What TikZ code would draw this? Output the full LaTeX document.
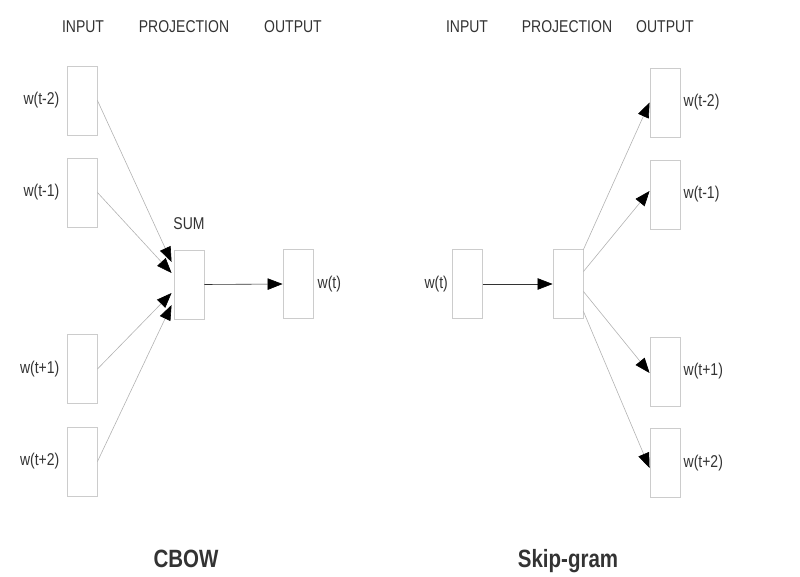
\documentclass[tikz,border=0pt]{standalone}
\usepackage{fontspec}
\setmainfont{Liberation Sans}
\usetikzlibrary{arrows.meta,positioning}
\newcommand{\vtxt}[1]{\scalebox{1}[1.22]{#1}}
\begin{document}
\begin{tikzpicture}[x=1pt,y=-1pt,
  vec/.style={draw=gray!40,line width=0.9pt,minimum width=30pt,minimum height=69pt,inner sep=0pt},
  lbl/.style={text=black!80,font=\fontsize{14}{16}\selectfont,inner sep=0pt},
  ttl/.style={text=black!80,font=\bfseries\fontsize{20.5}{24}\selectfont,inner sep=0pt,anchor=base},
  conn/.style={draw=gray!60,line width=0.6pt,-{Triangle[black,length=15pt,width=11.5pt]}}]
  \useasboundingbox (0,0) rectangle (800,577);
  \foreach \x/\hd in {83/INPUT,184/PROJECTION,293/OUTPUT,467/INPUT,567/PROJECTION,665/OUTPUT} {
    \node[lbl,anchor=base] (h\x) at (\x,33) {\vtxt{\hd}};
  }
  \foreach \i/\y/\t in {1/100.5/t-2,2/192.5/t-1,3/369/t+1,4/461.5/t+2} {
    \node[vec] (cin\i) at (82,\y) {};
    \node[lbl,left=7pt of cin\i] (lcin\i) {\vtxt{w(\t)}};
  }
  \node[vec] (sum) at (189,284.5) {};
  \node[lbl,above=20pt of sum] (lsum) {\vtxt{SUM}};
  \node[vec] (cout) at (298,284) {};
  \node[lbl,right=4pt of cout] (lcout) {\vtxt{w(t)}};
  \foreach \i/\s in {1/22.5,2/11.5,3/-8.5,4/-20.5} {
    \draw[conn] (cin\i.east) -- ([xshift=-2pt,yshift=\s pt]sum.west);
  }
  \draw[conn,draw=black!80] (sum.east) -- (cout.west);
  \node[vec] (sin) at (467.5,284) {};
  \node[lbl,left=4pt of sin] (lsin) {\vtxt{w(t)}};
  \node[vec] (proj) at (568,284) {};
  \draw[conn,draw=black!80] (sin.east) -- (proj.west);
  \foreach \i/\y/\t/\a/\b in {1/102.5/t-2/34.5/0,2/194.5/t-1/12.5/3.5,3/371.5/t+1/-7.5/-1.5,4/463/t+2/-27.5/-5} {
    \node[vec] (sout\i) at (665,\y) {};
    \node[lbl,right=3pt of sout\i] (lsout\i) {\vtxt{w(\t)}};
    \draw[conn] ([yshift=\a pt]proj.east) -- ([yshift=\b pt]sout\i.west);
  }
  \node[ttl] (tcbow) at (186,567) {\vtxt{CBOW}};
  \node[ttl] (tskip) at (568,567) {\vtxt{Skip-gram}};
\end{tikzpicture}
\end{document}
